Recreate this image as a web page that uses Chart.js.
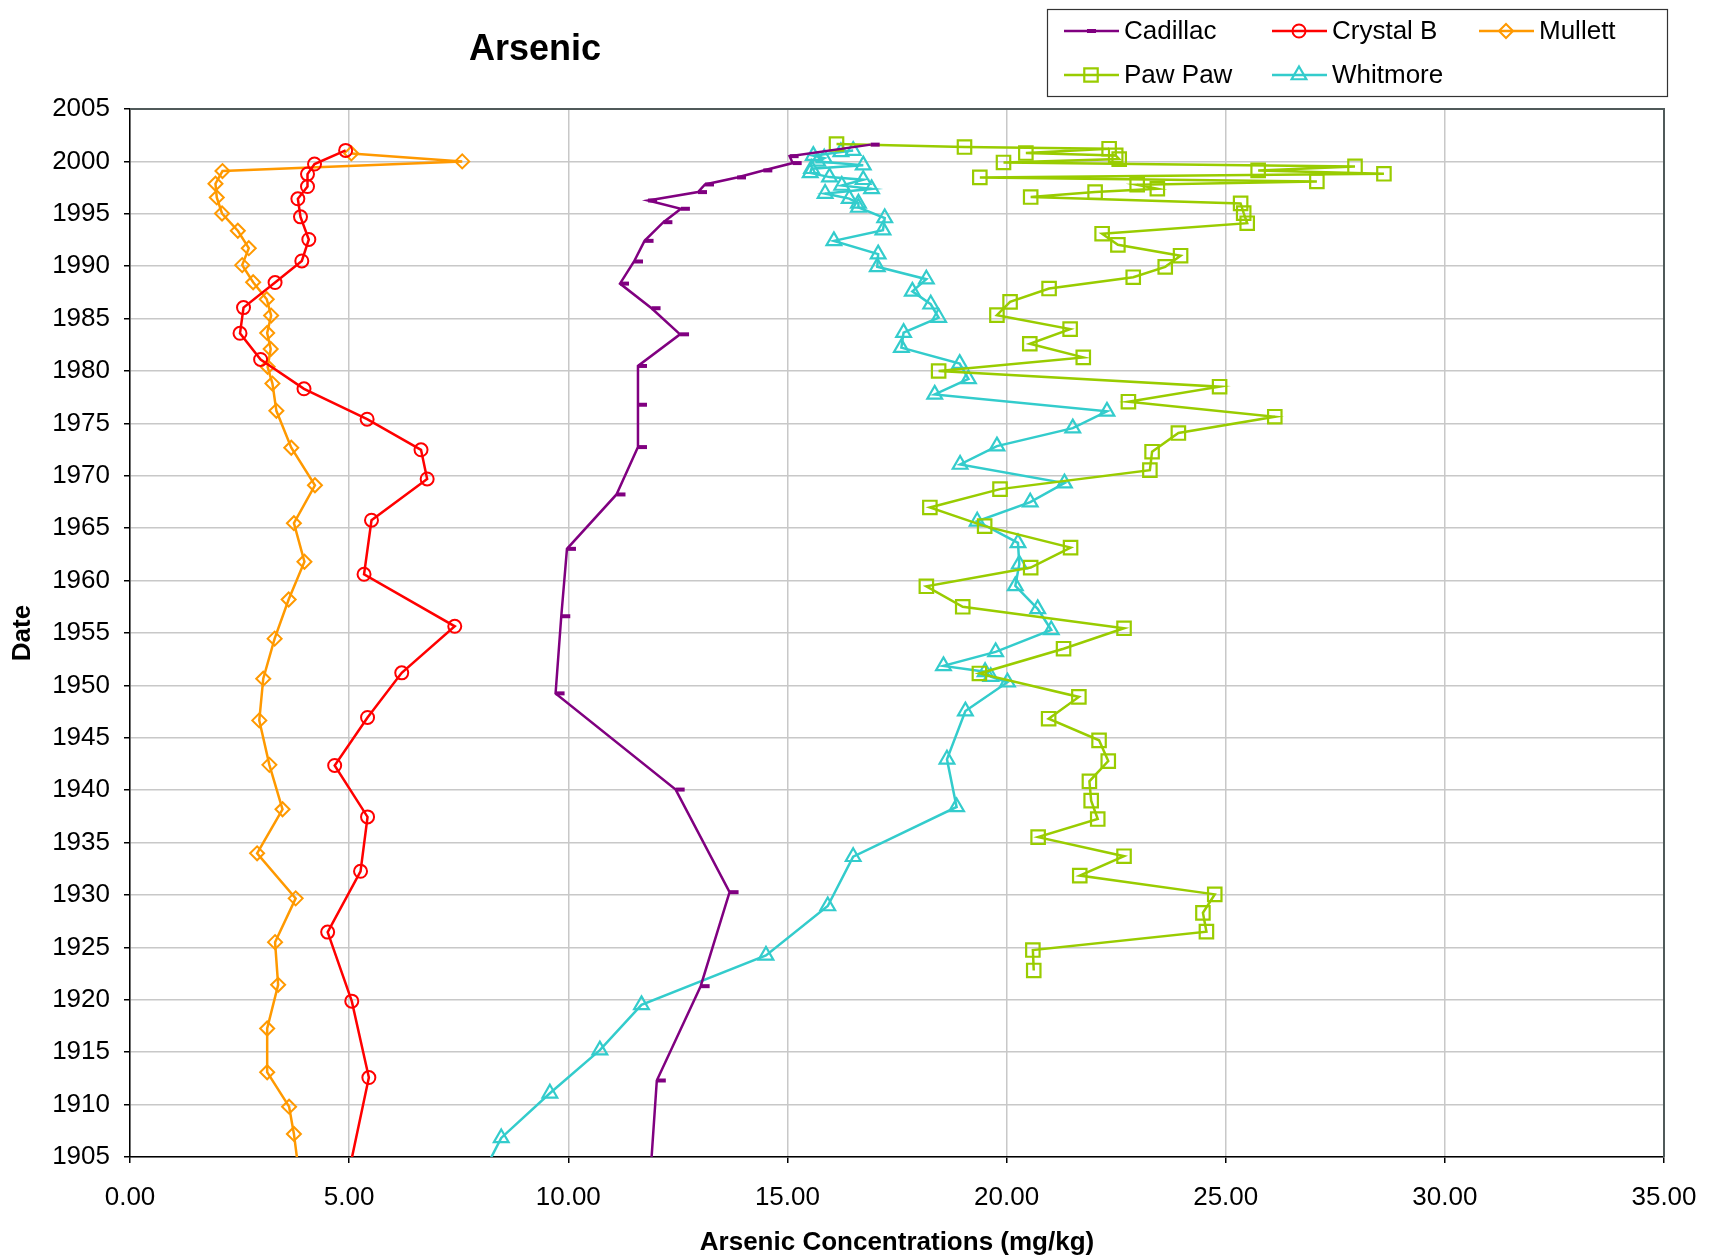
<!DOCTYPE html>
<html>
<head>
<meta charset="utf-8">
<title>Arsenic</title>
<script src="https://cdn.jsdelivr.net/npm/chart.js@4.4.1/dist/chart.umd.min.js"></script>
<style>
  html, body { margin: 0; padding: 0; background: #fff; }
  #wrap { width: 1711px; height: 1258px; position: relative; }
</style>
</head>
<body>
<div id="wrap"><canvas id="arsenicChart"></canvas></div>
<script>
// core dates (year) and arsenic concentration (mg/kg)
const seriesNames = ['Cadillac', 'Crystal B', 'Mullett', 'Paw Paw', 'Whitmore'];

const cadillacYear = [2001.6, 2000.5, 1999.84, 1999.14, 1998.47, 1997.8, 1997.07, 1996.27, 1995.48, 1994.2,
  1992.42, 1990.45, 1988.34, 1985.99, 1983.5, 1980.48, 1976.78, 1972.74, 1968.22, 1963.03,
  1956.6, 1949.24, 1940.06, 1930.27, 1921.3, 1912.3, 1902.5];
const cadillacAs = [16.90, 15.05, 15.12, 14.45, 13.85, 13.12, 12.96, 11.82, 12.57, 12.17,
  11.74, 11.50, 11.18, 11.90, 12.55, 11.59, 11.59, 11.59, 11.10, 9.97,
  9.84, 9.71, 12.45, 13.68, 13.02, 12.02, 11.86];

const crystalYear = [2001.05, 1999.75, 1998.79, 1997.6, 1996.43, 1994.71, 1992.55, 1990.5, 1988.44, 1986.05,
  1983.6, 1981.1, 1978.3, 1975.4, 1972.48, 1969.7, 1965.76, 1960.6, 1955.64, 1951.2,
  1946.94, 1942.36, 1937.45, 1932.26, 1926.46, 1919.87, 1912.58, 1902.5];
const crystalAs = [4.92, 4.21, 4.05, 4.05, 3.83, 3.89, 4.08, 3.92, 3.31, 2.59,
  2.51, 2.98, 3.97, 5.41, 6.64, 6.78, 5.51, 5.34, 7.41, 6.20,
  5.42, 4.67, 5.42, 5.26, 4.51, 5.06, 5.45, 4.94];

const mullettYear = [2000.76, 2000.0, 1999.08, 1997.87, 1996.56, 1995.03, 1993.38, 1991.72, 1990.1, 1988.47,
  1986.85, 1985.29, 1983.63, 1982.1, 1980.4, 1978.8, 1976.2, 1972.68, 1969.1, 1965.48,
  1961.8, 1958.2, 1954.46, 1950.64, 1946.66, 1942.42, 1938.18, 1933.98, 1929.68, 1925.5,
  1921.43, 1917.26, 1913.09, 1909.8, 1907.2, 1903.3];
const mullettAs = [5.05, 7.58, 2.11, 1.95, 1.98, 2.10, 2.46, 2.71, 2.56, 2.81,
  3.12, 3.22, 3.13, 3.21, 3.14, 3.25, 3.34, 3.68, 4.22, 3.74,
  3.98, 3.62, 3.30, 3.04, 2.95, 3.18, 3.48, 2.90, 3.78, 3.31,
  3.38, 3.13, 3.13, 3.63, 3.74, 3.86];

const pawpawYear = [2001.66, 2001.37, 2001.21, 2000.8, 2000.57, 2000.22, 1999.9, 1999.52, 1999.14, 1998.82,
  1998.47, 1998.09, 1997.77, 1997.39, 1997.07, 1996.6, 1995.99, 1995.06, 1994.1, 1993.1,
  1992.04, 1991.0, 1989.94, 1988.95, 1987.87, 1986.6, 1985.33, 1984.0, 1982.6, 1981.3,
  1980.0, 1978.5, 1977.07, 1975.64, 1974.08, 1972.3, 1970.54, 1968.73, 1966.98, 1965.2,
  1963.15, 1961.24, 1959.46, 1957.5, 1955.45, 1953.5, 1951.14, 1948.9, 1946.82, 1944.76,
  1942.78, 1940.85, 1939.0, 1937.25, 1935.52, 1933.7, 1931.85, 1930.06, 1928.3, 1926.5,
  1924.75, 1922.8];
const pawpawAs = [16.12, 19.04, 22.34, 20.44, 22.49, 22.57, 19.93, 27.95, 25.74, 28.61,
  19.39, 27.08, 22.98, 23.44, 22.02, 20.55, 25.34, 25.41, 25.49, 22.18,
  22.54, 23.97, 23.62, 22.89, 20.97, 20.08, 19.78, 21.45, 20.53, 21.75,
  18.45, 24.86, 22.78, 26.12, 23.92, 23.32, 23.27, 19.85, 18.25, 19.50,
  21.46, 20.55, 18.17, 19.00, 22.68, 21.30, 19.38, 21.65, 20.96, 22.11,
  22.32, 21.89, 21.93, 22.08, 20.72, 22.68, 21.67, 24.75, 24.48, 24.56,
  20.60, 20.62];

const whitmoreYear = [2001.03, 2000.9, 2000.55, 2000.3, 2000.0, 1999.64, 1999.3, 1998.9, 1998.5, 1998.25,
  1997.7, 1997.38, 1996.93, 1996.45, 1996.0, 1995.6, 1994.6, 1993.44, 1992.42, 1991.15,
  1989.94, 1988.76, 1987.6, 1986.37, 1985.1, 1983.66, 1982.23, 1980.7, 1979.24, 1977.77,
  1976.15, 1974.55, 1972.83, 1971.08, 1969.3, 1967.48, 1965.66, 1963.6, 1961.56, 1959.5,
  1957.3, 1955.29, 1953.2, 1951.86, 1951.3, 1950.83, 1950.3, 1947.55, 1942.95, 1938.4,
  1933.65, 1928.95, 1924.24, 1919.52, 1915.2, 1911.08, 1906.82, 1903.0];
const whitmoreAs = [16.50, 16.22, 15.59, 15.84, 15.69, 16.73, 15.55, 15.52, 15.96, 16.73,
  16.24, 16.92, 15.86, 16.41, 16.62, 16.62, 17.22, 17.18, 16.06, 17.07,
  17.05, 18.17, 17.85, 18.27, 18.45, 17.65, 17.60, 18.93, 19.13, 18.36,
  22.29, 21.51, 19.78, 18.94, 21.32, 20.54, 19.33, 20.26, 20.29, 20.20,
  20.71, 21.02, 19.75, 18.56, 19.51, 19.64, 20.02, 19.06, 18.64, 18.86,
  16.50, 15.92, 14.51, 11.67, 10.72, 9.58, 8.47, 8.00];

function pts(years, vals) {
  return years.map((y, i) => ({ x: vals[i], y: y }));
}

Chart.defaults.font.family = '"Liberation Sans", Arial, sans-serif';
Chart.defaults.color = '#000';

function series(name, years, vals, color, style, radius, pbw) {
  return {
    label: name,
    data: pts(years, vals),
    showLine: true,
    borderColor: color,
    borderWidth: 2.5,
    pointStyle: style,
    pointRadius: radius,
    pointBorderWidth: pbw,
    pointBorderColor: color,
    pointBackgroundColor: 'rgba(0,0,0,0)',
    fill: false,
    tension: 0
  };
}

// titel + legend box + frame are drawn by hand, positions as in the picture
const extras = {
  id: 'extras',
  afterDraw(chart) {
    const ctx = chart.ctx;
    const a = chart.chartArea;
    ctx.save();
    // top and right frame
    ctx.strokeStyle = '#505a5a';
    ctx.lineWidth = 2;
    ctx.beginPath();
    ctx.moveTo(a.left, a.top);
    ctx.lineTo(a.right, a.top);
    ctx.lineTo(a.right, a.bottom);
    ctx.stroke();

    ctx.fillStyle = '#000';
    ctx.font = 'bold 36px "Liberation Sans", Arial, sans-serif';
    ctx.textAlign = 'center';
    ctx.textBaseline = 'middle';
    ctx.fillText('Arsenic', 535, 50);

    // legend
    ctx.lineWidth = 1.2;
    ctx.strokeStyle = '#333';
    ctx.strokeRect(1047.5, 9.5, 620, 87);
    const colX = [1064, 1272, 1479];
    const rowY = [31, 75];
    ctx.font = '26px "Liberation Sans", Arial, sans-serif';
    ctx.textAlign = 'left';
    chart.data.datasets.forEach((ds, i) => {
      const x = colX[i % 3], y = rowY[Math.floor(i / 3)];
      ctx.strokeStyle = ds.borderColor;
      ctx.lineWidth = ds.borderWidth;
      ctx.beginPath();
      ctx.moveTo(x, y);
      ctx.lineTo(x + 55, y);
      ctx.stroke();
      ctx.fillStyle = 'rgba(0,0,0,0)';
      ctx.lineWidth = ds.pointBorderWidth;
      Chart.helpers.drawPoint(ctx, {
        pointStyle: ds.pointStyle, radius: ds.pointRadius, borderWidth: ds.pointBorderWidth, rotation: 0
      }, ds.pointStyle === 'dash' ? x + 23 : x + 27, y);
      ctx.fillStyle = '#000';
      ctx.fillText(ds.label, x + 60, y + 1);
    });
    ctx.restore();
  }
};

const ctx = document.getElementById('arsenicChart').getContext('2d');
const arsenicChart = new Chart(ctx, {
  type: 'scatter',
  data: {
    datasets: [
      series(seriesNames[0], cadillacYear, cadillacAs, '#800080', 'dash', 9, 4),
      series(seriesNames[1], crystalYear, crystalAs, '#ff0000', 'circle', 6.5, 2),
      series(seriesNames[2], mullettYear, mullettAs, '#ff9900', 'rectRot', 7, 2),
      series(seriesNames[3], pawpawYear, pawpawAs, '#99cc00', 'rect', 9.5, 2.2),
      series(seriesNames[4], whitmoreYear, whitmoreAs, '#33cccc', 'triangle', 8.5, 2.2)
    ]
  },
  options: {
    responsive: true,
    maintainAspectRatio: false,
    animation: false,
    devicePixelRatio: 1,
    layout: { padding: { top: 109, right: 47, left: 0, bottom: 0 } },
    plugins: {
      legend: { display: false },
      title: { display: false },
      tooltip: { enabled: false }
    },
    scales: {
      x: {
        type: 'linear',
        min: 0, max: 35,
        afterFit: (s) => { s.height = 101; s.paddingLeft = 0; s.paddingRight = 0; },
        ticks: { stepSize: 5, padding: 19, font: { size: 26 }, callback: (v) => v.toFixed(2) },
        grid: { color: '#c8c8c8', lineWidth: 1.5, tickLength: 6, tickColor: '#000' },
        border: { color: '#000', width: 1.5 },
        title: {
          display: true, text: 'Arsenic Concentrations (mg/kg)',
          font: { size: 26, weight: 'bold' }, padding: { top: 0, bottom: 0 }
        }
      },
      y: {
        type: 'linear',
        min: 1905, max: 2005,
        afterFit: (s) => { s.width = 130; s.paddingTop = 0; s.paddingBottom = 0; },
        ticks: { stepSize: 5, padding: 14, font: { size: 26 }, callback: (v) => String(v) },
        grid: { color: '#c8c8c8', lineWidth: 1.5, tickLength: 6, tickColor: '#000' },
        border: { color: '#000', width: 1.5 },
        title: {
          display: true, text: 'Date',
          font: { size: 26, weight: 'bold' }, padding: { top: 7, bottom: 0 }
        }
      }
    }
  },
  plugins: [extras]
});
</script>
</body>
</html>
